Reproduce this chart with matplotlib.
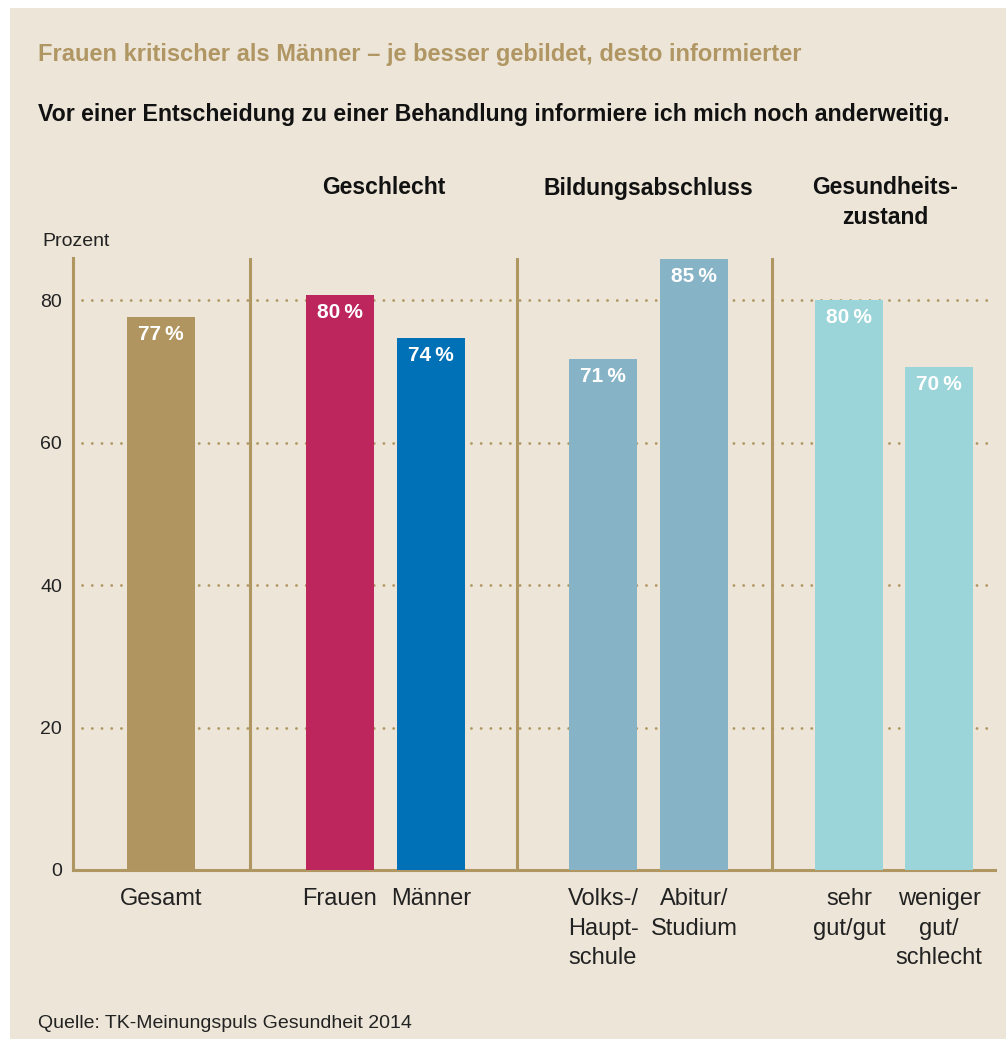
import matplotlib.pyplot as plt
from matplotlib.patches import Rectangle

# --- data ---
categories = ["Gesamt", "Frauen", "Männer", "Volks-/\nHaupt-\nschule", "Abitur/\nStudium",
              "sehr\ngut/gut", "weniger\ngut/\nschlecht"]
bar_heights = [77.6, 80.7, 74.7, 71.7, 85.8, 80.0, 70.6]
value_labels = ["77\u2009%", "80\u2009%", "74\u2009%", "71\u2009%", "85\u2009%", "80\u2009%", "70\u2009%"]
groups = ["Geschlecht", "Bildungsabschluss", "Gesundheits-\nzustand"]
y_ticks = [0, 20, 40, 60, 80]

title = "Frauen kritischer als Männer \u2013 je besser gebildet, desto informierter"
subtitle = "Vor einer Entscheidung zu einer Behandlung informiere ich mich noch anderweitig."
source = "Quelle: TK-Meinungspuls Gesundheit 2014"

# --- layout (pixel based) ---
W, H = 1006, 1039
x_centers = [161, 340, 431, 603, 694, 849, 939]
bar_w = 68
separators = [250, 517, 772]
group_x = [384, 648, 885]

BG = "#ece5d8"
TAN = "#b09660"
bar_colors = ["#b09560", "#bc265d", "#0071b6", "#86b3c6", "#86b3c6", "#9bd5d9", "#9bd5d9"]

plt.rcParams["font.family"] = ["Liberation Sans", "DejaVu Sans"]


def px(x, y):
    return x / W, 1 - y / H


fig = plt.figure(figsize=(W / 100, H / 100), dpi=100)
fig.patch.set_facecolor("white")
fig.add_artist(Rectangle((10 / W, 0), 1, 1 - 8 / H, transform=fig.transFigure,
                         facecolor=BG, edgecolor="none", zorder=0))

ax_left, ax_right, ax_bottom, ax_top = 73, 995, 870, 258
ax = fig.add_axes([ax_left / W, 1 - ax_bottom / H, (ax_right - ax_left) / W,
                   (ax_bottom - ax_top) / H])
ax.set_facecolor("none")
ax.set_xlim(ax_left, ax_right)
ax.set_ylim(0, (ax_bottom - ax_top) / 7.125)

# dotted grid
for t in y_ticks[1:]:
    ax.plot([82, 995], [t, t], color=TAN, linewidth=2.0,
            linestyle=(0, (0.05, 3.45)), dash_capstyle="round", zorder=1)

ax.bar(x_centers, bar_heights, width=bar_w, color=bar_colors, zorder=3)
for x, h, lab in zip(x_centers, bar_heights, value_labels):
    ax.annotate(lab, (x, h), xytext=(0, -6), textcoords="offset points",
                ha="center", va="top", color="white", fontsize=15,
                fontweight="bold", zorder=4)

for s in separators:
    ax.axvline(s, color=TAN, linewidth=2.2, zorder=2)

for side in ["top", "right"]:
    ax.spines[side].set_visible(False)
for side in ["left", "bottom"]:
    ax.spines[side].set_color(TAN)
    ax.spines[side].set_linewidth(2.2)

ax.set_yticks(y_ticks)
ax.set_yticklabels([str(t) for t in y_ticks], fontsize=14, color="#222222")
ax.set_xticks(x_centers)
ax.set_xticklabels(categories, fontsize=17, color="#222222", linespacing=1.45)
ax.tick_params(axis="x", length=0, pad=13)
ax.tick_params(axis="y", length=0, pad=8)

# texts
fig.text(*px(38, 55), title, fontsize=17, fontweight="bold", color="#b09663",
         ha="left", va="center")
fig.text(*px(38, 114), subtitle, fontsize=16.7, fontweight="bold", color="#111111",
         ha="left", va="center")
for gx, g in zip(group_x, groups):
    gy = 202.5 if "\n" in g else 188
    fig.text(*px(gx, gy), g, fontsize=16.5, fontweight="bold", color="#111111",
             ha="center", va="center", linespacing=1.35)
fig.text(*px(42, 241), "Prozent", fontsize=14, color="#222222", ha="left", va="center")
fig.text(*px(38, 1023), source, fontsize=14, color="#222222", ha="left", va="center")

fig.savefig("out.png", dpi=100, facecolor=fig.get_facecolor())
